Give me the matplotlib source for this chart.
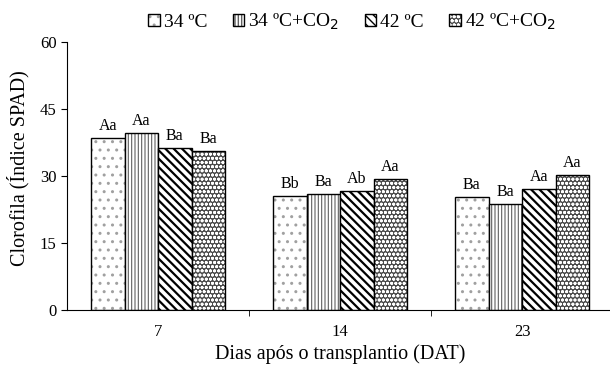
import matplotlib
matplotlib.use("Agg")
import matplotlib.pyplot as plt
from matplotlib.patches import Patch
import numpy as np

plt.rcParams['font.family'] = ['Liberation Serif', 'DejaVu Serif']

categories = ['7', '14', '23']
series_names = ['34 ºC', '34 ºC+CO$_2$', '42 ºC', '42 ºC+CO$_2$']
values = {
    '34 ºC': [38.5, 25.5, 25.3],
    '34 ºC+CO2': [39.6, 25.9, 23.7],
    '42 ºC': [36.2, 26.7, 27.0],
    '42 ºC+CO2': [35.5, 29.3, 30.2],
}
letters = {
    '34 ºC': ['Aa', 'Bb', 'Ba'],
    '34 ºC+CO2': ['Aa', 'Ba', 'Ba'],
    '42 ºC': ['Ba', 'Ab', 'Aa'],
    '42 ºC+CO2': ['Ba', 'Aa', 'Aa'],
}
yticks = [0, 15, 30, 45, 60]

hatches = ['..', '|||||', '\\\\\\\\', 'oooo']
facecolors = ['white', 'white', 'white', '#4a4a4a']
hatchcolors = ['#a0a0a0', '#606060', 'black', 'white']
hatchlw = [1.0, 0.8, 1.6, 0.9]

fig = plt.figure(figsize=(6.1, 3.67), dpi=100)
ax = fig.add_axes([0.110, 0.155, 0.895, 0.731])

x = np.arange(len(categories))
w = 0.184
keys = list(values.keys())
handles = []
for i, k in enumerate(keys):
    pos = x + (i - 1.5) * w
    with plt.rc_context({'hatch.linewidth': hatchlw[i]}):
        ax.bar(pos, values[k], width=w, facecolor=facecolors[i], edgecolor=hatchcolors[i],
               hatch=hatches[i], linewidth=0)
        ax.bar(pos, values[k], width=w, facecolor='none', edgecolor='black', linewidth=1.0)
        h = Patch(facecolor=facecolors[i], edgecolor=hatchcolors[i], hatch=hatches[i],
                  linewidth=0)
    handles.append((h, Patch(facecolor='none', edgecolor='black', linewidth=1.0)))
    for px, v, t in zip(pos, values[k], letters[k]):
        ax.text(px, v + 0.9, t, ha='center', va='bottom', fontsize=11.5)

ax.set_xlim(-0.5, len(categories) - 0.5)
ax.set_ylim(0, 60)
ax.set_yticks(yticks)
ax.set_xticks(x)
ax.set_xticklabels(categories, fontsize=12)
ax.set_xticks([0.5, 1.5], minor=True)
ax.tick_params(axis='x', which='major', length=0, pad=10)
ax.tick_params(axis='x', which='minor', length=4, direction='out')
ax.tick_params(axis='y', labelsize=12, length=4, direction='out')
ax.spines['top'].set_visible(False)
ax.spines['right'].set_visible(False)
ax.set_xlabel('Dias após o transplantio (DAT)', fontsize=14.5, labelpad=3)
ax.set_ylabel('Clorofila (Índice SPAD)', fontsize=14.5)
ax.yaxis.set_label_coords(-0.068, 0.53)

fig.legend(handles=handles, labels=series_names, loc='upper center',
           bbox_to_anchor=(0.577, 1.015), ncol=4,
           frameon=False, fontsize=14, handlelength=0.6, handleheight=0.6,
           handletextpad=0.2, columnspacing=1.3)

fig.savefig('out.png', dpi=100)
